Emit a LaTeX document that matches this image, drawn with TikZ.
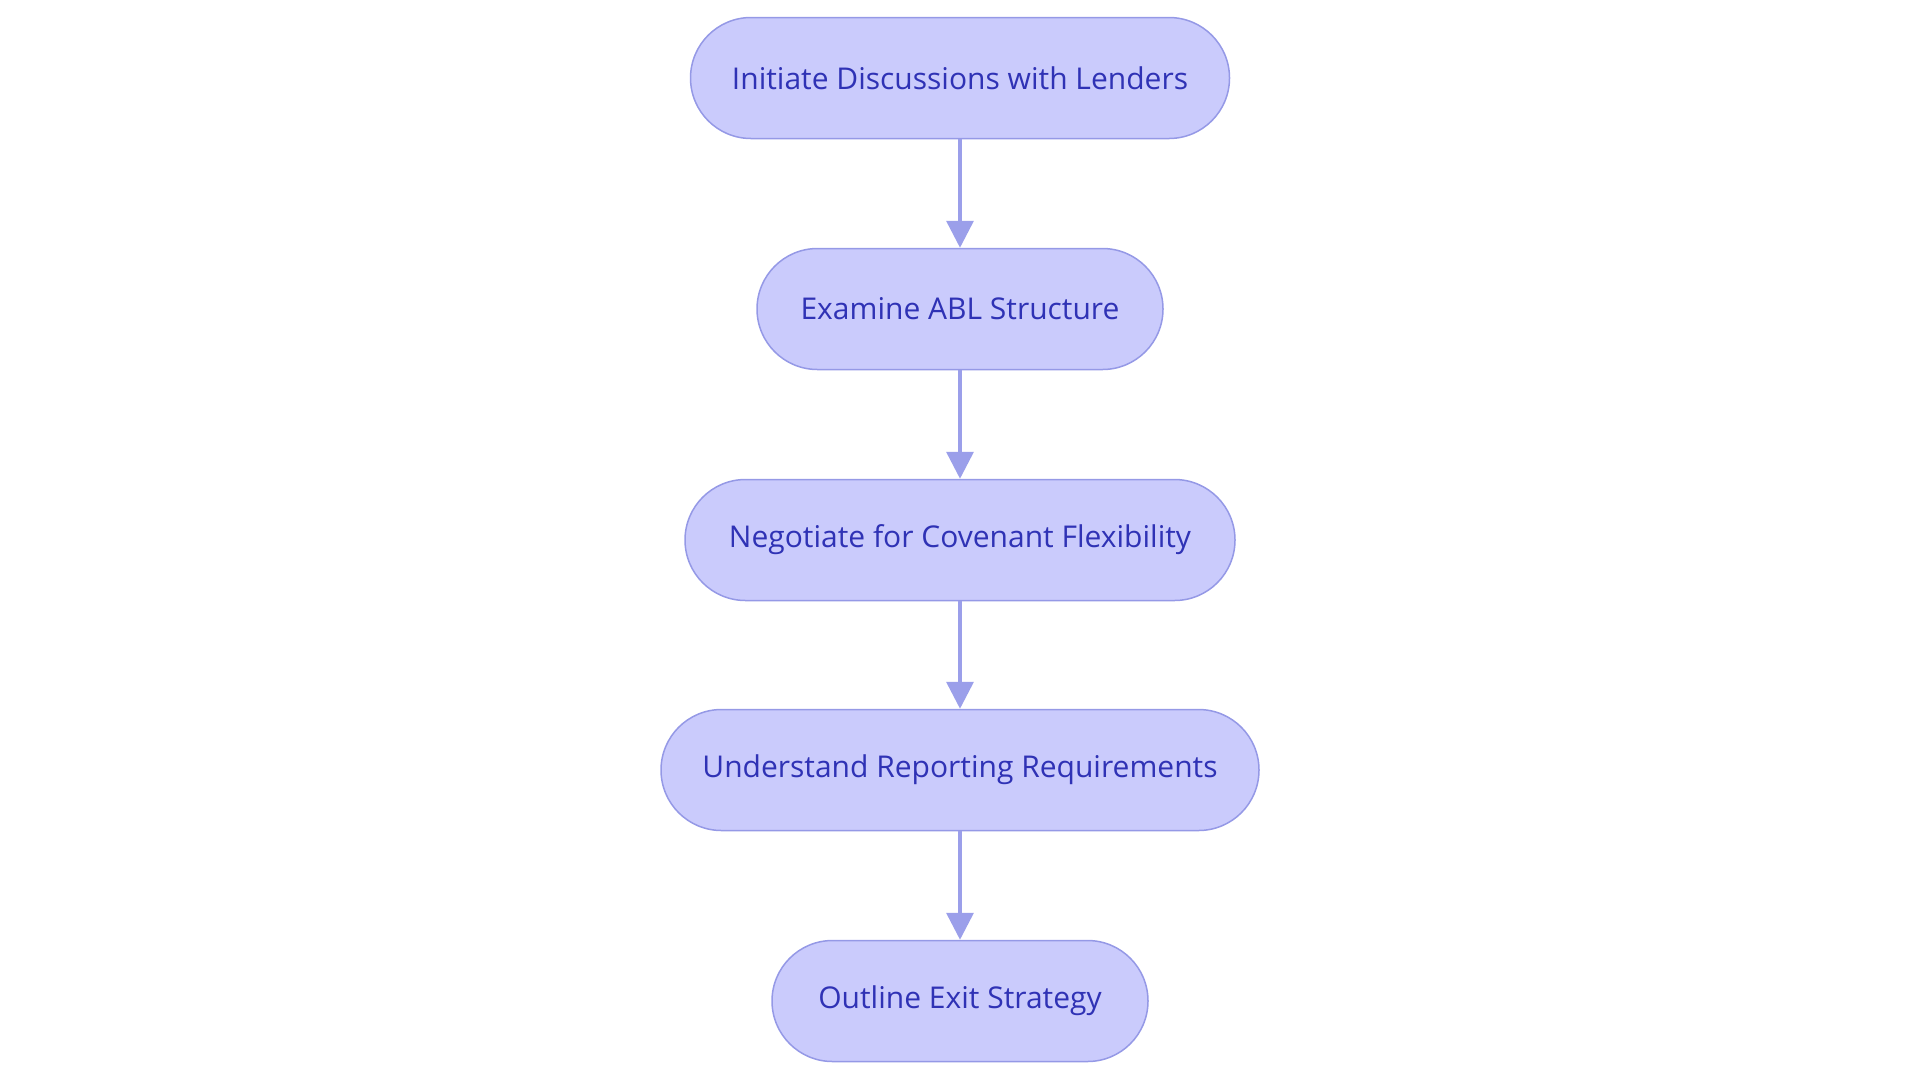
\documentclass[tikz,border=0pt]{standalone}
\usepackage{fontspec}
\setmainfont{Open Sans}
\usetikzlibrary{arrows.meta}
\definecolor{boxfill}{HTML}{CACBFC}
\definecolor{boxline}{HTML}{9599E6}
\definecolor{txt}{HTML}{2F32B5}
\definecolor{arr}{HTML}{9B9FEA}
\begin{document}
\begin{tikzpicture}[x=1pt,y=-1pt,
  stepbox/.style={draw=boxline,fill=boxfill,line width=1.5pt,rounded corners=60.5pt,
    minimum height=121pt,inner sep=0pt,text=txt,font=\fontsize{30}{35}\selectfont},
  conn/.style={draw=arr,line width=3.5pt,-{Triangle[length=27pt,width=27pt]}}]
\useasboundingbox (0,0) rectangle (1920,1080);
\node[stepbox,minimum width=539pt] (n1) at (960,78) {Initiate Discussions with Lenders};
\node[stepbox,minimum width=406pt] (n2) at (960,309) {Examine ABL Structure};
\node[stepbox,minimum width=550pt] (n3) at (960,540) {Negotiate for Covenant Flexibility};
\node[stepbox,minimum width=598pt] (n4) at (960,770) {Understand Reporting Requirements};
\node[stepbox,minimum width=376pt] (n5) at (960,1001) {Outline Exit Strategy};
\draw[conn] (n1) -- (n2);
\draw[conn] (n2) -- (n3);
\draw[conn] (n3) -- (n4);
\draw[conn] (n4) -- (n5);
\end{tikzpicture}
\end{document}
